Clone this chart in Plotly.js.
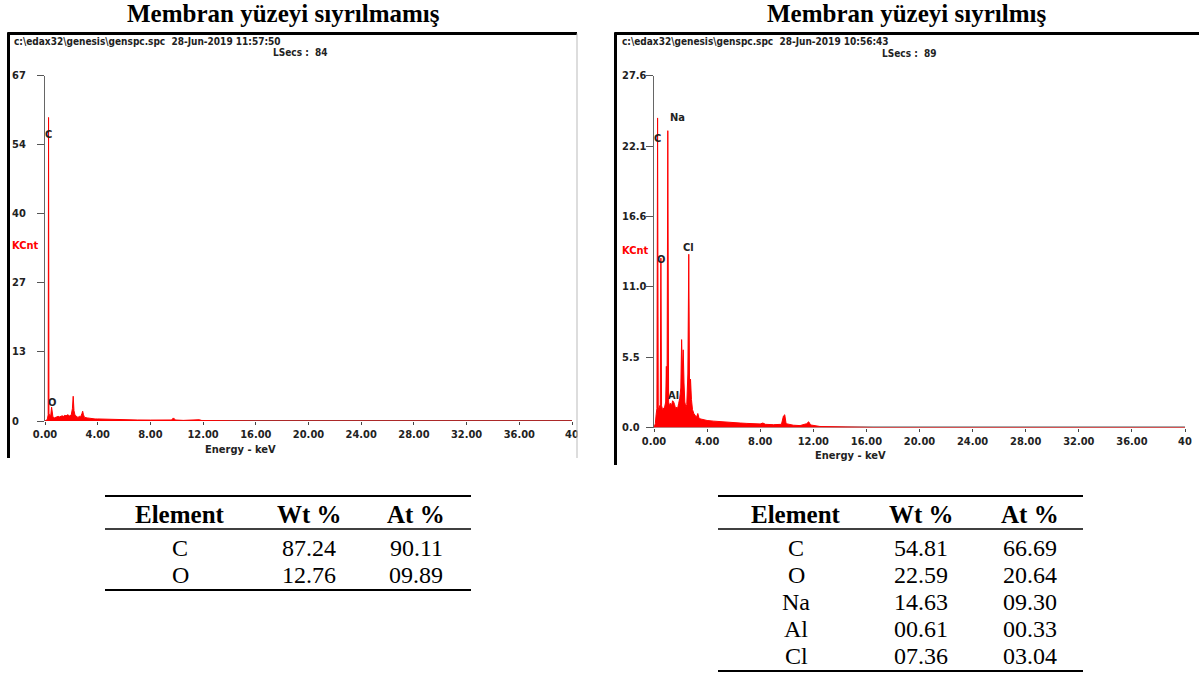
<!DOCTYPE html>
<html>
<head>
<meta charset="utf-8">
<script src="https://cdn.plot.ly/plotly-3.0.1.min.js"></script>
<style>html,body{margin:0;padding:0;background:#fff;}#chart{width:1199px;height:682px;}</style>
</head>
<body>
<div id="chart"></div>
<script>
// ---------- DATA ----------
const titleA = 'Membran yüzeyi sıyrılmamış';
const titleB = 'Membran yüzeyi sıyrılmış';
const headerA = 'c:\\edax32\\genesis\\genspc.spc  28-Jun-2019 11:57:50';
const headerB = 'c:\\edax32\\genesis\\genspc.spc  28-Jun-2019 10:56:43';
const lsecsA = 'LSecs :  84';
const lsecsB = 'LSecs :  89';

const xTicks = [0, 4, 8, 12, 16, 20, 24, 28, 32, 36, 40];
const xTickText = ['0.00','4.00','8.00','12.00','16.00','20.00','24.00','28.00','32.00','36.00','40'];

const yTicksA = [0, 13.4, 26.8, 40.2, 53.6, 67];
const yTickTextA = ['0', '13', '27', '40', '54', '67'];
const yTicksB = [0, 5.52, 11.04, 16.56, 22.08, 27.6];
const yTickTextB = ['0.0', '5.5', '11.0', '16.6', '22.1', '27.6'];

// spectrum, unstripped membrane (keV, KCnt)
const energyA = [0.00,0.10,0.18,0.24,0.27,0.30,0.36,0.44,0.50,0.54,0.60,0.70,0.80,0.90,1.00,1.10,1.20,1.30,1.40,1.50,1.60,1.70,1.80,1.90,2.00,2.08,2.14,2.20,2.28,2.40,2.50,2.62,2.70,2.80,2.86,2.92,3.00,3.20,3.40,3.60,3.80,4.00,4.50,5.00,5.50,6.00,7.00,8.00,9.00,9.60,9.75,9.90,10.50,11.50,11.70,11.90,12.50,14.00,16.00,40.00];
const countsA = [0,0.1,0.4,1.2,58.9,1.5,1.0,1.2,2.7,1.6,0.8,0.6,0.7,0.8,0.9,0.8,0.9,1.0,0.9,1.1,1.0,1.2,1.1,0.9,1.3,2.4,4.8,2.0,1.1,0.8,0.7,0.9,0.8,1.4,1.9,1.2,0.7,0.6,0.5,0.5,0.4,0.4,0.35,0.3,0.25,0.22,0.2,0.18,0.16,0.2,0.6,0.2,0.12,0.12,0.25,0.1,0.06,0.03,0,0];

// spectrum, stripped membrane (keV, KCnt)
const energyB = [0.00,0.10,0.16,0.22,0.27,0.32,0.40,0.47,0.52,0.57,0.65,0.72,0.80,0.88,0.93,0.98,1.04,1.10,1.18,1.25,1.32,1.40,1.48,1.55,1.62,1.70,1.78,1.86,1.94,2.02,2.08,2.14,2.20,2.26,2.32,2.40,2.47,2.55,2.62,2.68,2.75,2.82,2.90,3.00,3.10,3.20,3.30,3.40,3.60,3.80,4.00,4.50,5.00,5.50,6.00,6.50,7.00,7.50,8.00,8.20,8.40,9.00,9.60,9.75,9.85,9.95,10.50,11.00,11.50,11.65,11.80,12.50,14.00,15.00,16.00,16.50,40.00];
const countsB = [0,0.3,1.0,1.5,24.3,1.4,1.6,1.8,13.3,1.7,1.4,1.5,1.6,2.0,4.8,1.9,23.3,2.0,1.7,1.9,1.7,2.1,2.0,1.8,1.5,1.6,1.5,1.9,2.3,3.1,6.9,4.4,6.1,3.5,2.0,1.6,1.8,4.2,13.6,2.8,3.8,2.2,1.4,1.1,0.9,0.8,1.1,0.7,0.65,0.6,0.55,0.5,0.45,0.4,0.38,0.35,0.32,0.3,0.28,0.35,0.25,0.22,0.25,0.9,1.0,0.3,0.18,0.15,0.3,0.45,0.2,0.08,0.05,0.04,0.02,0,0];

// peak labels
const peakNamesA = ['C', 'O'];
const peakXA = [0.27, 0.52];
const peakYA = [55.5, 3.6];
const peakNamesB = ['C', 'Na', 'O', 'Cl', 'Al'];
const peakXB = [0.27, 1.04, 0.52, 2.62, 1.45];
const peakYB = [22.7, 24.3, 13.2, 14.1, 2.5];

// tables
const tableHeader = ['Element', 'Wt %', 'At %'];
const elementsA = ['C', 'O'];
const wtA = ['87.24', '12.76'];
const atA = ['90.11', '09.89'];
const elementsB = ['C', 'O', 'Na', 'Al', 'Cl'];
const wtB = ['54.81', '22.59', '14.63', '00.61', '07.36'];
const atB = ['66.69', '20.64', '09.30', '00.33', '03.04'];

// ---------- LAYOUT HELPERS ----------
const W = 1199, H = 682;
const px = v => v / W;
const py = v => 1 - v / H;
const SANS = '"Liberation Sans Narrow", "DejaVu Sans Condensed", Arial, sans-serif';
const SERIF = '"Liberation Serif", "Times New Roman", serif';
const RED = '#ff0000';

const traces = [
  {x: energyA, y: countsA, xaxis: 'x', yaxis: 'y', type: 'scatter', mode: 'lines',
   line: {color: RED, width: 1}, fill: 'tozeroy', fillcolor: RED, hoverinfo: 'skip'},
  {x: energyB, y: countsB, xaxis: 'x2', yaxis: 'y2', type: 'scatter', mode: 'lines',
   line: {color: RED, width: 1}, fill: 'tozeroy', fillcolor: RED, hoverinfo: 'skip'}
];

function xAxis(domain, anchor) {
  return {domain: domain, range: [0, 40], anchor: anchor, tickvals: xTicks, ticktext: xTickText,
    ticks: 'outside', ticklen: 3, tickwidth: 1, tickcolor: '#444', showgrid: false, zeroline: false,
    showline: false, tickfont: {family: SANS, size: 11, color: '#222', weight: 'bold'},
    ticklabelstandoff: 0, ticklabeloverflow: 'allow', fixedrange: true};
}
function yAxis(domain, range, tickvals, anchor) {
  return {domain: domain, range: range, anchor: anchor, tickvals: tickvals, showticklabels: false,
    ticks: 'outside', ticklen: 7, tickwidth: 1, tickcolor: '#555', showline: true, linecolor: '#666',
    linewidth: 1, showgrid: false, zeroline: false, fixedrange: true};
}

const layout = {
  width: W, height: H, autosize: false, showlegend: false, hovermode: false,
  margin: {l: 0, r: 0, t: 0, b: 0, pad: 0},
  paper_bgcolor: '#fff', plot_bgcolor: 'rgba(0,0,0,0)',
  xaxis: xAxis([px(45), px(572)], 'y'),
  yaxis: yAxis([py(421), py(75.7)], [0, 67], yTicksA, 'x'),
  xaxis2: xAxis([px(654), px(1185)], 'y2'),
  yaxis2: yAxis([py(427.5), py(75.9)], [0, 27.6], yTicksB, 'x2'),
  shapes: [], annotations: []
};

// x-axis baselines (drawn below data)
layout.shapes.push({type: 'line', xref: 'x', yref: 'y', x0: -0.6, x1: 41, y0: 0, y1: 0,
  line: {color: '#555', width: 2}, layer: 'below'});
layout.shapes.push({type: 'line', xref: 'x2', yref: 'y2', x0: -0.6, x1: 41, y0: 0, y1: 0,
  line: {color: '#555', width: 2}, layer: 'below'});

// clip strip between the two screenshots
layout.shapes.push({type: 'rect', xref: 'paper', yref: 'paper', x0: px(577.5), x1: px(613),
  y0: py(470), y1: py(30), fillcolor: '#fff', line: {width: 0}, layer: 'above'});

// frames
function frame(left, right, top, bottom, rightLine) {
  layout.shapes.push({type: 'line', xref: 'paper', yref: 'paper', x0: px(left), x1: px(left),
    y0: py(top - 1), y1: py(bottom), line: {color: '#000', width: 3}});
  layout.shapes.push({type: 'line', xref: 'paper', yref: 'paper', x0: px(left - 1), x1: px(right),
    y0: py(top), y1: py(top), line: {color: '#000', width: 3}});
  if (rightLine) {
    layout.shapes.push({type: 'line', xref: 'paper', yref: 'paper', x0: px(right), x1: px(right),
      y0: py(top), y1: py(bottom), line: {color: '#bbb', width: 1}});
  }
}
frame(8.5, 577, 33.5, 458, true);
frame(615.5, 1199, 33.5, 465, false);

// titles
[[titleA, 283], [titleB, 906]].forEach(([t, cx]) => {
  layout.annotations.push({text: t, xref: 'paper', yref: 'paper', x: px(cx), y: py(14),
    xanchor: 'center', yanchor: 'middle', showarrow: false,
    font: {family: SERIF, size: 25, color: '#000', weight: 'bold'}});
});

// screenshot header texts
function small(text, x, y, anchor, color, size) {
  layout.annotations.push({text: text, xref: 'paper', yref: 'paper', x: px(x), y: py(y),
    xanchor: anchor, yanchor: 'middle', showarrow: false,
    font: {family: SANS, size: size || 10, color: color || '#222', weight: 'bold'}});
}
small(headerA, 12, 42, 'left');
small(lsecsA, 300, 52, 'center');
small(headerB, 620, 42, 'left');
small(lsecsB, 909, 53, 'center');
small('KCnt', 10, 245, 'left', RED, 11);
small('KCnt', 620, 250, 'left', RED, 11);
small('Energy - keV', 240, 449, 'center', '#222', 11);
small('Energy - keV', 850, 455, 'center', '#222', 11);

// y tick labels, left aligned like the EDAX software
yTicksA.forEach((v, i) => {
  layout.annotations.push({text: yTickTextA[i], xref: 'paper', yref: 'y', x: px(10), y: v,
    xanchor: 'left', yanchor: 'middle', showarrow: false,
    font: {family: SANS, size: 11, color: '#222', weight: 'bold'}});
});
yTicksB.forEach((v, i) => {
  layout.annotations.push({text: yTickTextB[i], xref: 'paper', yref: 'y2', x: px(620), y: v,
    xanchor: 'left', yanchor: 'middle', showarrow: false,
    font: {family: SANS, size: 11, color: '#222', weight: 'bold'}});
});

// peak labels
peakNamesA.forEach((n, i) => {
  layout.annotations.push({text: n, xref: 'x', yref: 'y', x: peakXA[i], y: peakYA[i],
    xanchor: 'center', yanchor: 'middle', showarrow: false,
    font: {family: SANS, size: 11, color: '#222', weight: 'bold'}});
});
peakNamesB.forEach((n, i) => {
  layout.annotations.push({text: n, xref: 'x2', yref: 'y2', x: peakXB[i], y: peakYB[i],
    xanchor: i === 1 ? 'left' : 'center', yanchor: 'middle', showarrow: false,
    font: {family: SANS, size: 11, color: '#222', weight: 'bold'}});
});

// tables
function table(x0, x1, cols, elements, wt, at) {
  const top = 496, head = 514, mid = 529, row0 = 548, step = 27;
  const bottom = row0 + (elements.length - 1) * step + 15;
  layout.shapes.push({type: 'line', xref: 'paper', yref: 'paper', x0: px(x0), x1: px(x1),
    y0: py(top), y1: py(top), line: {color: '#000', width: 2}});
  layout.shapes.push({type: 'line', xref: 'paper', yref: 'paper', x0: px(x0), x1: px(x1),
    y0: py(mid), y1: py(mid), line: {color: '#000', width: 1.5}});
  layout.shapes.push({type: 'line', xref: 'paper', yref: 'paper', x0: px(x0), x1: px(x1),
    y0: py(bottom), y1: py(bottom), line: {color: '#000', width: 2}});
  tableHeader.forEach((h, j) => {
    layout.annotations.push({text: h, xref: 'paper', yref: 'paper', x: px(cols[j]), y: py(head),
      xanchor: 'center', yanchor: 'middle', showarrow: false,
      font: {family: SERIF, size: 25, color: '#000', weight: 'bold'}});
  });
  elements.forEach((e, i) => {
    [e, wt[i], at[i]].forEach((t, j) => {
      layout.annotations.push({text: t, xref: 'paper', yref: 'paper', x: px(cols[j]),
        y: py(row0 + i * step), xanchor: 'center', yanchor: 'middle', showarrow: false,
        font: {family: SERIF, size: 24, color: '#000'}});
    });
  });
}
table(105, 471, [180, 309, 416], elementsA, wtA, atA);
table(718, 1083, [796, 921, 1030], elementsB, wtB, atB);

Plotly.newPlot('chart', traces, layout, {staticPlot: true, displayModeBar: false});
</script>
</body>
</html>
